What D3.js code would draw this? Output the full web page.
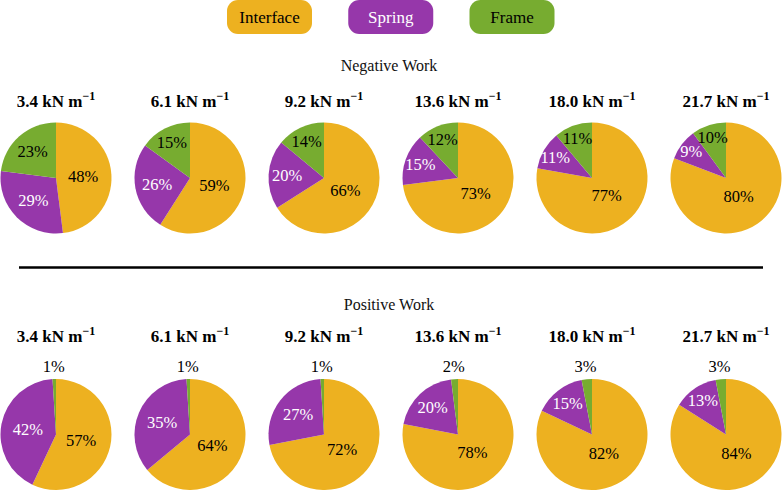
<!DOCTYPE html>
<html>
<head>
<meta charset="utf-8">
<script src="https://cdn.jsdelivr.net/npm/d3@7"></script>
<style>
  html, body { margin: 0; padding: 0; background: #fff; }
  svg { display: block; }
</style>
</head>
<body>
<svg id="chart" width="782" height="490" font-family="'Liberation Serif', Tinos, 'Times New Roman', Times, serif"></svg>
<script>
// ---- data ----
const categories = ["Interface", "Spring", "Frame"];
const colors = ["#EDB120", "#9637AA", "#77AC30"];
const labelColors = ["#000", "#fff", "#000"];
const stiffness = ["3.4", "6.1", "9.2", "13.6", "18.0", "21.7"];
const negInterface = [48, 59, 66, 73, 77, 80];
const negSpring    = [29, 26, 20, 15, 11, 9];
const negFrame     = [23, 15, 14, 12, 11, 10];
const posInterface = [57, 64, 72, 78, 82, 84];
const posSpring    = [42, 35, 27, 20, 15, 13];
const posFrame     = [1, 1, 1, 2, 3, 3];
const sections = [
  { title: "Negative Work", values: [negInterface, negSpring, negFrame] },
  { title: "Positive Work", values: [posInterface, posSpring, posFrame] }
];

// ---- layout ----
const svg = d3.select("#chart");
const R = 55.5;
const x = d3.scalePoint().domain(stiffness).range([56, 726]).padding(0);
const layout = [
  { titleY: 71, headY: 107, cy: 178 },
  { titleY: 310, headY: 342, cy: 434.5 }
];
// label distance (fraction of radius) as a function of slice share
const labelDist = d3.scaleLinear()
  .domain([0.09, 0.15, 0.28, 0.5, 0.85])
  .range([0.79, 0.72, 0.58, 0.48, 0.39])
  .clamp(true);

// ---- legend ----
const legendX = d3.scalePoint().domain(categories).range([269.5, 512]);
const lg = svg.append("g");
categories.forEach((c, i) => {
  const g = lg.append("g").attr("transform", `translate(${legendX(c)},17)`);
  g.append("rect").attr("x", -42.5).attr("y", -17).attr("width", 85).attr("height", 34)
    .attr("rx", 11).attr("ry", 11).attr("fill", colors[i]);
  g.append("text").attr("text-anchor", "middle").attr("dy", "0.35em")
    .attr("font-size", 17).attr("fill", labelColors[i]).text(c);
});

// ---- divider ----
svg.append("line").attr("x1", 19).attr("x2", 763).attr("y1", 267.5).attr("y2", 267.5)
  .attr("stroke", "#000").attr("stroke-width", 2.5);

const pie = d3.pie().sort(null).value(d => d.v);
const arc = d3.arc().innerRadius(0).outerRadius(R);

sections.forEach((sec, si) => {
  const L = layout[si];
  svg.append("text").attr("x", 389).attr("y", L.titleY).attr("text-anchor", "middle")
    .attr("font-size", 16).attr("fill", "#111").text(sec.title);

  stiffness.forEach((s, j) => {
    const cx = x(s);
    const head = svg.append("text").attr("x", cx).attr("y", L.headY)
      .attr("text-anchor", "middle").attr("font-size", 17).attr("font-weight", "bold").attr("fill", "#000");
    head.append("tspan").text(s + " kN m");
    head.append("tspan").attr("dy", -7).attr("font-size", 12).text("\u22121");

    const data = categories.map((c, k) => ({ k, v: sec.values[k][j] }));
    const total = d3.sum(data, d => d.v);
    const arcs = pie(data);
    const g = svg.append("g").attr("transform", `translate(${cx},${L.cy})`);
    g.selectAll("path").data(arcs).join("path")
      .attr("d", arc).attr("fill", d => colors[d.data.k]);

    g.selectAll("text").data(arcs).join("text")
      .attr("text-anchor", "middle").attr("dy", "0.35em").attr("font-size", 16.5)
      .attr("fill", d => (d.data.v / total < 0.05) ? "#000" : labelColors[d.data.k])
      .attr("transform", d => {
        const f = d.data.v / total;
        const a = (d.startAngle + d.endAngle) / 2;
        const r = f < 0.05 ? R * 1.23 : R * labelDist(f);
        return `translate(${r * Math.sin(a)},${-r * Math.cos(a)})`;
      })
      .text(d => d.data.v + "%");
  });
});
</script>
</body>
</html>
